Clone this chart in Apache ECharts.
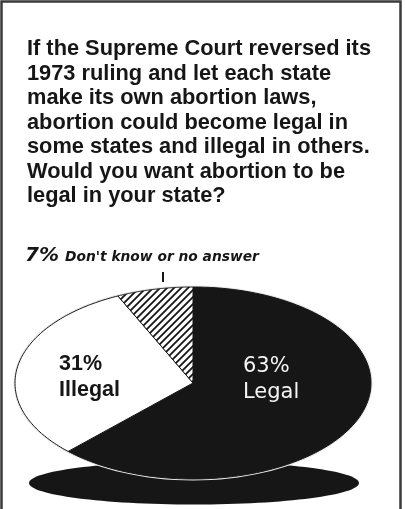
<!DOCTYPE html>
<html>
<head>
<meta charset="utf-8">
<title>Abortion poll</title>
<script src="https://cdn.jsdelivr.net/npm/echarts@6/dist/echarts.min.js"></script>
<style>
  html, body { margin: 0; padding: 0; background: #fff; }
  #chart { width: 405px; height: 509px; }
</style>
</head>
<body>
<div id="chart"></div>
<script>
const question = [
  'If the Supreme Court reversed its',
  '1973 ruling and let each state',
  'make its own abortion laws,',
  'abortion could become legal in',
  'some states and illegal in others.',
  'Would you want abortion to be',
  'legal in your state?'
];
const answers = ['Legal', 'Illegal', "Don't know or no answer"];
const shares = [63, 31, 7];

// ellipse the pie is drawn on (tilted look)
const cx = 193, cy = 383, rx = 178, ry = 96;
const ink = '#161616';

function hatch() {
  const s = 7;
  const c = document.createElement('canvas');
  c.width = s; c.height = s;
  const g = c.getContext('2d');
  g.fillStyle = '#fff';
  g.fillRect(0, 0, s, s);
  g.strokeStyle = ink;
  g.lineWidth = 1.8;
  g.beginPath();
  g.moveTo(-1, s + 1); g.lineTo(s + 1, -1);
  g.moveTo(-1, 1); g.lineTo(1, -1);
  g.moveTo(s - 1, s + 1); g.lineTo(s + 1, s - 1);
  g.stroke();
  return c;
}

const fills = [ink, '#fff', { image: hatch(), repeat: 'repeat' }];

function renderSlice(params, api) {
  const i = params.dataIndex;
  const total = shares.reduce((a, b) => a + b, 0);
  const before = shares.slice(0, i).reduce((a, b) => a + b, 0);
  const a0 = -Math.PI / 2 + before / total * 2 * Math.PI;
  const a1 = a0 + api.value(0) / total * 2 * Math.PI;
  const pts = [[cx, cy]];
  const n = 120;
  for (let k = 0; k <= n; k++) {
    const t = a0 + (a1 - a0) * k / n;
    pts.push([cx + rx * Math.cos(t), cy + ry * Math.sin(t)]);
  }
  const children = [{
    type: 'polygon',
    shape: { points: pts },
    style: { fill: fills[i], stroke: ink, lineWidth: 1 }
  }];

  if (i === 0) {
    children.push({
      type: 'text',
      x: 243, y: 380,
      style: {
        text: api.value(0) + '%\n' + answers[i],
        fill: '#f4f4f4',
        font: '21px "DejaVu Sans"',
        lineHeight: 26,
        align: 'left',
        verticalAlign: 'middle'
      },
      z2: 10
    });
  } else if (i === 1) {
    children.push({
      type: 'text',
      x: 59, y: 377,
      style: {
        text: api.value(0) + '%\n' + answers[i],
        fill: ink,
        font: 'bold 21.5px "Liberation Sans"',
        lineHeight: 26,
        align: 'left',
        verticalAlign: 'middle'
      },
      z2: 10
    });
  } else {
    children.push({
      type: 'line',
      shape: { x1: 163, y1: 272, x2: 163, y2: 282 },
      style: { stroke: ink, lineWidth: 2 }
    });
    children.push({
      type: 'text',
      x: 25, y: 256,
      style: {
        text: '{a|' + api.value(0) + '%}{b|' + answers[i] + '}',
        align: 'left',
        verticalAlign: 'middle',
        rich: {
          a: {
            fontFamily: 'DejaVu Sans', fontStyle: 'italic', fontWeight: 'bold',
            fontSize: 20, width: 40, fill: ink, verticalAlign: 'bottom'
          },
          b: {
            fontFamily: 'DejaVu Sans', fontStyle: 'italic', fontWeight: 'bold',
            fontSize: 13.8, fill: ink, verticalAlign: 'bottom', padding: [0, 0, 2, 0]
          }
        }
      }
    });
  }
  return { type: 'group', children: children };
}

const chart = echarts.init(document.getElementById('chart'));
chart.setOption({
  backgroundColor: '#fff',
  animation: false,
  title: {
    text: question.join('\n'),
    left: 27,
    top: 37,
    padding: 0,
    textStyle: {
      fontFamily: 'Liberation Sans',
      fontWeight: 'bold',
      fontSize: 21.8,
      lineHeight: 24.5,
      color: ink
    }
  },
  graphic: [
    {
      type: 'rect',
      shape: { x: 1.5, y: 1.5, width: 399, height: 530 },
      style: { fill: 'none', stroke: '#3a3a3a', lineWidth: 2.5 }
    },
    {
      type: 'ellipse',
      shape: { cx: 194, cy: 483, rx: 165, ry: 21.5 },
      style: { fill: ink }
    },
    {
      type: 'ellipse',
      shape: { cx: cx, cy: cy, rx: rx + 1.5, ry: ry + 1.5 },
      style: { fill: '#e8e8e8' }
    }
  ],
  series: [{
    type: 'custom',
    coordinateSystem: 'none',
    renderItem: renderSlice,
    data: shares.map((v, i) => ({ name: answers[i], value: [v] }))
  }]
});
</script>
</body>
</html>
